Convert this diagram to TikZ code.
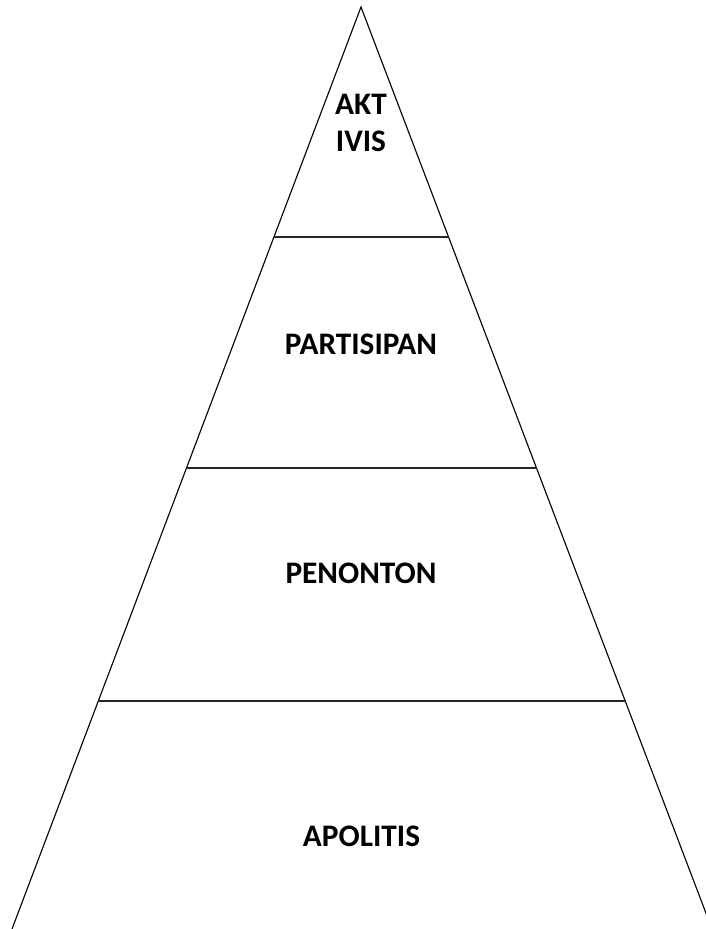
\documentclass[tikz,border=0pt]{standalone}
\usepackage{fontspec}
\setmainfont{Carlito}
\tikzset{every picture/.style={line width=0.75pt}}
\tikzset{
	side/.style={draw=black, line width=0.75pt},
	sideshade/.style={draw=black!40, line width=0.75pt, xshift=1.5pt},
	level/.style={draw=black!85, line width=1.4pt},
	tierlabel/.style={font=\fontsize{23.5}{28}\selectfont\bfseries, inner sep=0pt, align=center}}

\begin{document}
\begin{tikzpicture}[x=0.75pt,y=0.75pt,yscale=-1,xscale=1]
	\clip (0,0) rectangle (706,929);

	%Shape: Triangle corners
	\coordinate (top) at (361,7);
	\coordinate (baseL) at (12,929);
	\coordinate (baseR) at (712,929);
	%Shape: level ends
	\coordinate (l1) at (274,237);
	\coordinate (r1) at (449,237);
	\coordinate (l2) at (186,468);
	\coordinate (r2) at (537,468);
	\coordinate (l3) at (98,701);
	\coordinate (r3) at (626,701);

	%Shape: Triangle sides
	\draw [sideshade] (baseL) -- (top) -- (baseR) ;
	\draw [side] (baseL) -- (top) -- (baseR) ;
	%Shape: Levels
	\draw [level] (l1) -- (r1) ;
	\draw [level] (l2) -- (r2) ;
	\draw [level] (l3) -- (r3) ;

	% Text Node
	\node [tierlabel] (aktivis) at (361,123) {AKT\\IVIS};
	% Text Node
	\node [tierlabel] (partisipan) at (361,344.5) {PARTISIPAN};
	% Text Node
	\node [tierlabel] (penonton) at (361,573) {PENONTON};
	% Text Node
	\node [tierlabel] (apolitis) at (361.5,836) {APOLITIS};

\end{tikzpicture}
\end{document}
